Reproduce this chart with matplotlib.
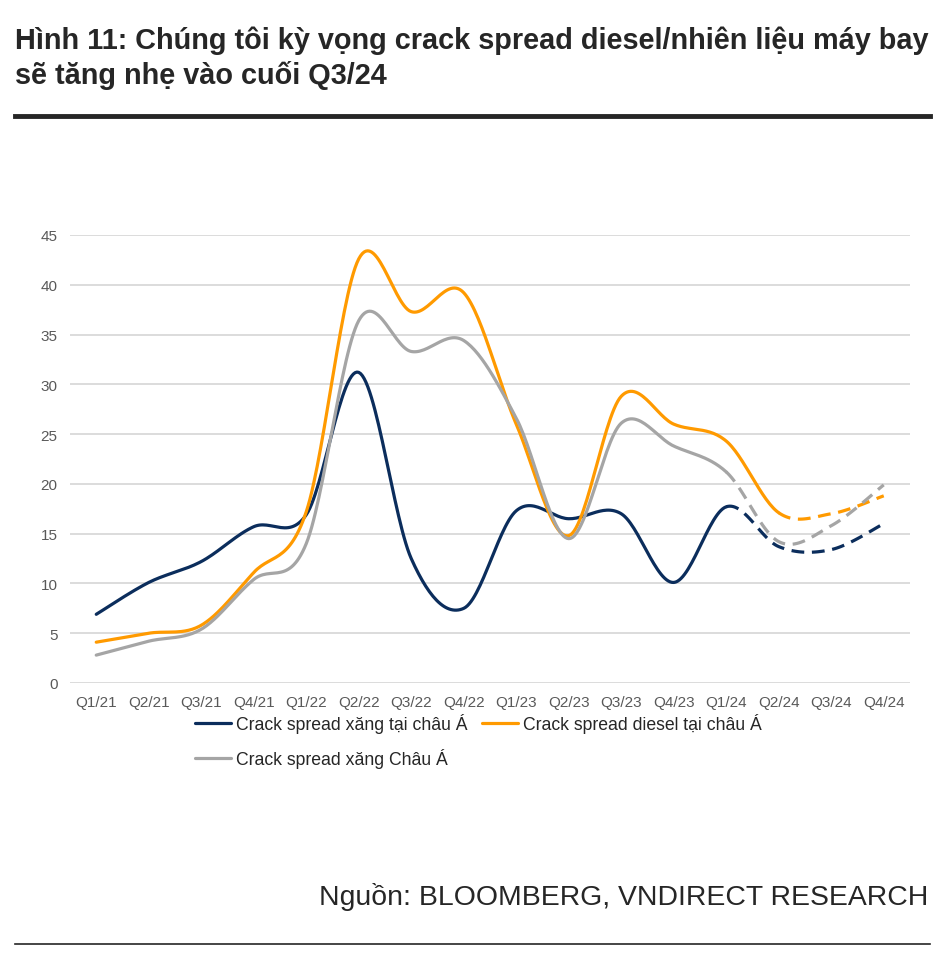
import numpy as np
import matplotlib.pyplot as plt

plt.rcParams['font.family'] = ['Liberation Sans', 'DejaVu Sans']

quarters = ["Q1/21", "Q2/21", "Q3/21", "Q4/21", "Q1/22", "Q2/22", "Q3/22", "Q4/22",
            "Q1/23", "Q2/23", "Q3/23", "Q4/23", "Q1/24", "Q2/24", "Q3/24", "Q4/24"]

gasoline = [6.9, 10.1, 12.2, 15.7, 16.9, 31.2, 12.5, 7.5,
            17.3, 16.5, 17.0, 10.1, 17.7, 13.7, 13.4, 16.0]
diesel = [4.1, 5.0, 5.8, 11.1, 17.2, 42.6, 37.3, 39.2,
          26.0, 14.8, 28.8, 26.0, 24.3, 17.1, 17.0, 18.8]
gasoline_asia = [2.8, 4.2, 5.4, 10.4, 14.0, 36.4, 33.3, 34.4,
                 26.6, 14.5, 26.1, 23.8, 21.2, 14.2, 15.8, 19.9]

labels = ["Crack spread xăng tại châu Á", "Crack spread diesel tại châu Á",
          "Crack spread xăng Châu Á"]
colors = ["#0B2D5C", "#FF9A00", "#A5A5A5"]
# index of the first forecast point (dashed from here on)
forecast_start = [12, 13, 12]


def smooth(y, n=30):
    # Bezier smoothing like Excel's "smoothed line"
    y = np.asarray(y, dtype=float)
    x = np.arange(len(y), dtype=float)
    pts = np.column_stack([x, y])
    out = [pts[0]]
    for i in range(len(pts) - 1):
        p0 = pts[max(i - 1, 0)]
        p1 = pts[i]
        p2 = pts[i + 1]
        p3 = pts[min(i + 2, len(pts) - 1)]
        c1 = p1 + (p2 - p0) / 6
        c2 = p2 - (p3 - p1) / 6
        t = np.linspace(0, 1, n)[1:, None]
        seg = ((1 - t) ** 3 * p1 + 3 * (1 - t) ** 2 * t * c1
               + 3 * (1 - t) * t ** 2 * c2 + t ** 3 * p2)
        out.extend(seg)
    return np.array(out), n - 1


fig = plt.figure(figsize=(9.5, 9.62), dpi=100)
ax = fig.add_axes([70 / 950, 278 / 962, 840 / 950, 448 / 962])

handles = []
for series, lab, col, fs in zip([gasoline, diesel, gasoline_asia], labels, colors, forecast_start):
    curve, per = smooth(series)
    k = fs * per
    h, = ax.plot(curve[:k + 1, 0], curve[:k + 1, 1], color=col, lw=2.3,
                 solid_capstyle='round', label=lab)
    ax.plot(curve[k:, 0], curve[k:, 1], color=col, lw=2.3, dashes=(4, 2.4))
    handles.append(h)

ax.set_xlim(-0.5, len(quarters) - 0.5)
ax.set_ylim(0, 45)
ax.set_yticks(range(0, 50, 5))
ax.set_xticks(range(len(quarters)))
ax.set_xticklabels(quarters)
ax.tick_params(length=0, labelsize=11, colors="#595959")
ax.tick_params(axis='x', pad=9)
ax.tick_params(axis='y', pad=9)
ax.grid(axis='y', color="#D9D9D9", lw=1.3)
ax.set_axisbelow(True)
for s in ax.spines.values():
    s.set_visible(False)

# column-wise fill: navy + gray in col 1, orange in col 2
order = [0, 2, 1]
fig.legend([handles[i] for i in order], [labels[i] for i in order],
           loc='upper left', bbox_to_anchor=(195 / 950, 1 - 714 / 962),
           ncol=2, frameon=False, fontsize=12.7, handlelength=2.05, handletextpad=0.28,
           columnspacing=0.8, labelspacing=0.85, borderaxespad=0, borderpad=0,
           labelcolor="#262626")

fig.text(15 / 950, 1 - 49 / 962,
         "Hình 11: Chúng tôi kỳ vọng crack spread diesel/nhiên liệu máy bay",
         fontsize=20.8, fontweight='bold', color="#262626", ha='left', va='baseline')
fig.text(15 / 950, 1 - 84 / 962, "sẽ tăng nhẹ vào cuối Q3/24",
         fontsize=20.8, fontweight='bold', color="#262626", ha='left', va='baseline')
fig.add_artist(plt.Line2D([15 / 950, 930 / 950], [1 - 117 / 962] * 2, color="#262626", lw=3.5))
fig.text(928 / 950, 1 - 905 / 962, "Nguồn: BLOOMBERG, VNDIRECT RESEARCH",
         fontsize=20.4, color="#262626", ha='right', va='baseline')
fig.add_artist(plt.Line2D([15 / 950, 930 / 950], [1 - 945 / 962] * 2, color="#262626", lw=1.2))

fig.savefig("out.png", dpi=100, facecolor="white")
